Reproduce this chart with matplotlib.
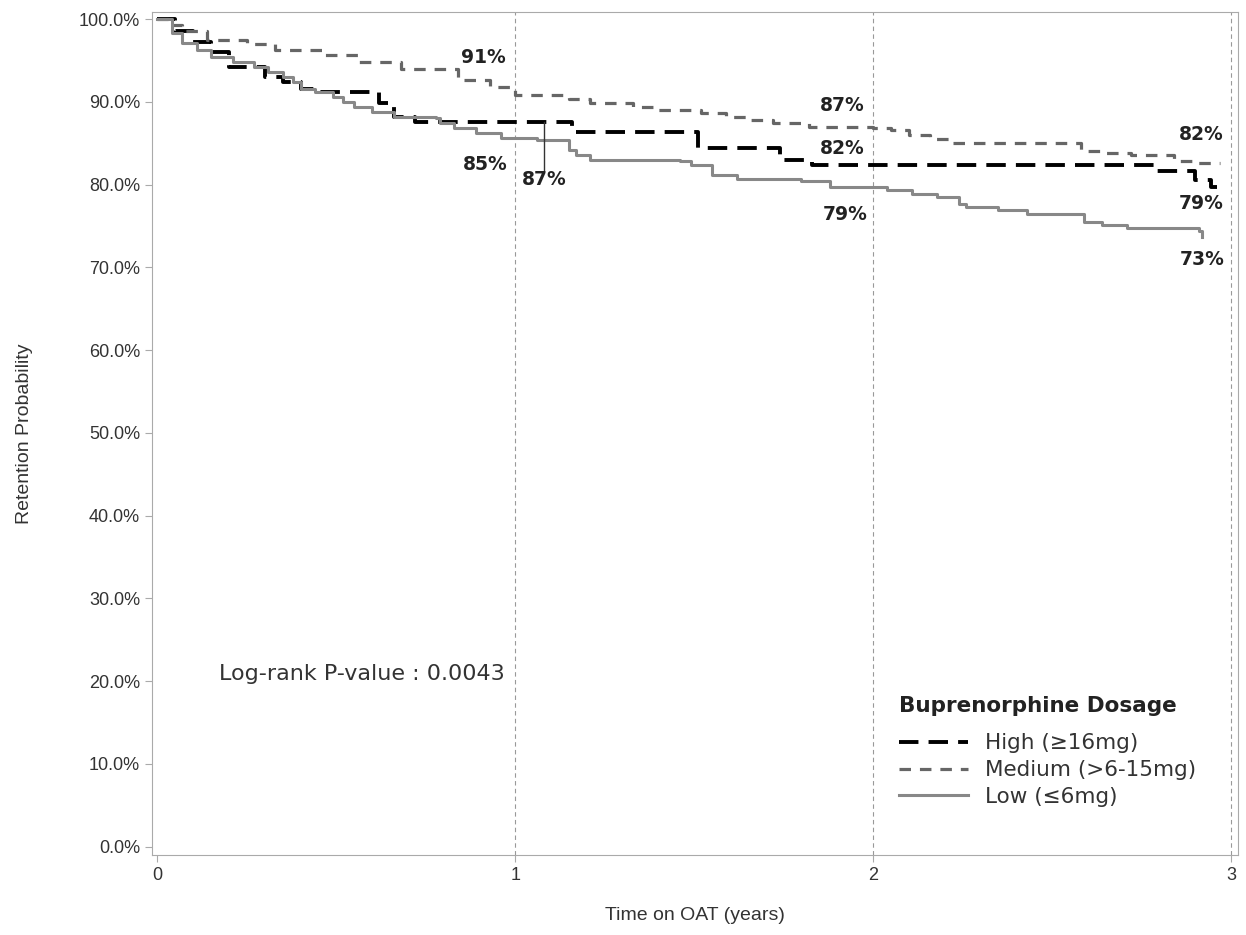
"""Kaplan-Meier retention curves by buprenorphine dosage."""

import matplotlib
matplotlib.use("Agg")
import matplotlib.pyplot as plt
import matplotlib.ticker as mticker

# 高剂量组 (step points: time in years, retention %)
high_t = [0, 0.05, 0.10, 0.15, 0.20, 0.30, 0.35, 0.40, 0.45, 0.62, 0.66, 0.72,
          1.16, 1.51, 1.74, 1.83, 2.79, 2.90, 2.945, 2.96]
high_s = [100, 98.5, 97.2, 96.0, 94.2, 93.0, 92.4, 91.6, 91.2, 89.8, 88.2, 87.6,
          86.4, 84.4, 83.0, 82.4, 81.6, 80.6, 79.7, 79.7]

# 中剂量组
med_t = [0, 0.03, 0.07, 0.14, 0.25, 0.33, 0.46, 0.56, 0.68, 0.84, 0.93, 1.00,
         1.15, 1.21, 1.33, 1.39, 1.52, 1.59, 1.66, 1.72, 1.82, 2.00, 2.05, 2.10,
         2.16, 2.22, 2.58, 2.65, 2.72, 2.84, 2.90, 2.97]
med_s = [100, 99.3, 98.5, 97.5, 97.0, 96.3, 95.7, 94.8, 94.0, 92.6, 91.8, 90.8,
         90.3, 89.8, 89.4, 89.0, 88.6, 88.2, 87.8, 87.4, 87.0, 86.8, 86.6, 86.0,
         85.5, 85.0, 84.0, 83.8, 83.6, 82.9, 82.6, 82.6]

# 低剂量组
low_t = [0, 0.04, 0.07, 0.11, 0.15, 0.21, 0.27, 0.31, 0.35, 0.38, 0.40, 0.44,
         0.49, 0.52, 0.55, 0.60, 0.66, 0.78, 0.79, 0.83, 0.89, 0.96, 1.06, 1.15,
         1.17, 1.21, 1.46, 1.49, 1.55, 1.62, 1.80, 1.88, 2.04, 2.11, 2.18, 2.24,
         2.26, 2.35, 2.43, 2.59, 2.64, 2.71, 2.91, 2.92]
low_s = [100, 98.3, 97.1, 96.3, 95.4, 94.8, 94.2, 93.6, 93.0, 92.4, 91.6, 91.2,
         90.6, 90.0, 89.4, 88.8, 88.2, 88.0, 87.4, 86.8, 86.2, 85.6, 85.4, 84.2,
         83.6, 83.0, 82.8, 82.4, 81.2, 80.7, 80.4, 79.7, 79.3, 78.9, 78.5, 77.7,
         77.3, 76.9, 76.5, 75.5, 75.1, 74.7, 74.4, 73.7]

labels = ["High (\u226516mg)", "Medium (>6-15mg)", "Low (\u22646mg)"]

# 标注: (text, x, y)
annotations = [
    ("91%", 0.91, 95.3), ("85%", 0.917, 82.4), ("87%", 1.08, 80.6),
    ("87%", 1.915, 89.5), ("82%", 1.915, 84.4), ("79%", 1.923, 76.4),
    ("82%", 2.916, 86.0), ("79%", 2.916, 77.7), ("73%", 2.92, 70.9),
]
pointer_x = 1.08
pointer_y = (87.6, 81.8)

plt.rcParams["font.family"] = ["Liberation Sans", "DejaVu Sans"]

fig = plt.figure(figsize=(12.46, 9.35), dpi=100)
ax = fig.add_axes([0.122, 0.0856, 0.8716, 0.9016])

ax.plot(high_t, high_s, drawstyle="steps-post", color="black", lw=2.8,
        dashes=(5, 2.6), label=labels[0])
ax.plot(med_t, med_s, drawstyle="steps-post", color="#666666", lw=2.3,
        dashes=(3.6, 2.8), label=labels[1])
ax.plot(low_t, low_s, drawstyle="steps-post", color="#888888", lw=2.2,
        label=labels[2])

for xv in (1, 2, 3):
    ax.axvline(xv, color="#999999", lw=0.8, linestyle=(0, (4, 3)), zorder=0)

ax.plot([pointer_x, pointer_x], pointer_y, color="#333333", lw=1.0)

for txt, xv, yv in annotations:
    ax.text(xv, yv, txt, ha="center", va="center", fontsize=13.5,
            fontweight="bold", family="DejaVu Sans", color="#222222")

ax.text(0.171, 20.9, "Log-rank P-value : 0.0043", ha="left", va="center",
        fontsize=16, family="DejaVu Sans", color="#333333")

ax.set_xlim(-0.015, 3.02)
ax.set_ylim(-1, 100.85)
ax.set_xticks([0, 1, 2, 3])
ax.set_yticks(range(0, 101, 10))
ax.yaxis.set_major_formatter(mticker.FuncFormatter(lambda v, p: f"{v:.1f}%"))
ax.tick_params(colors="#aaaaaa", labelcolor="#333333", labelsize=13, length=5)
for sp in ax.spines.values():
    sp.set_color("#aaaaaa")

ax.set_xlabel("Time on OAT (years)", fontsize=14, color="#333333")
ax.set_ylabel("Retention Probability", fontsize=14, color="#333333")
ax.xaxis.set_label_coords(0.5, -0.0617)
ax.yaxis.set_label_coords(-0.1096, 0.5)

leg = ax.legend(loc="upper left", bbox_to_anchor=(0.688, 0.188), frameon=False,
                title="Buprenorphine Dosage", handlelength=3.2,
                prop={"family": "DejaVu Sans", "size": 15.5},
                labelspacing=0.32, handletextpad=0.8, borderpad=0,
                borderaxespad=0)
leg.get_title().set_fontweight("bold")
leg.get_title().set_fontsize(15.5)
leg.get_title().set_family("DejaVu Sans")
leg.get_title().set_color("#222222")
leg._legend_box.align = "left"
leg._legend_box.sep = 12  # 标题与条目之间留出更大间距
for t in leg.get_texts():
    t.set_color("#333333")

fig.savefig("out.png", dpi=100)
